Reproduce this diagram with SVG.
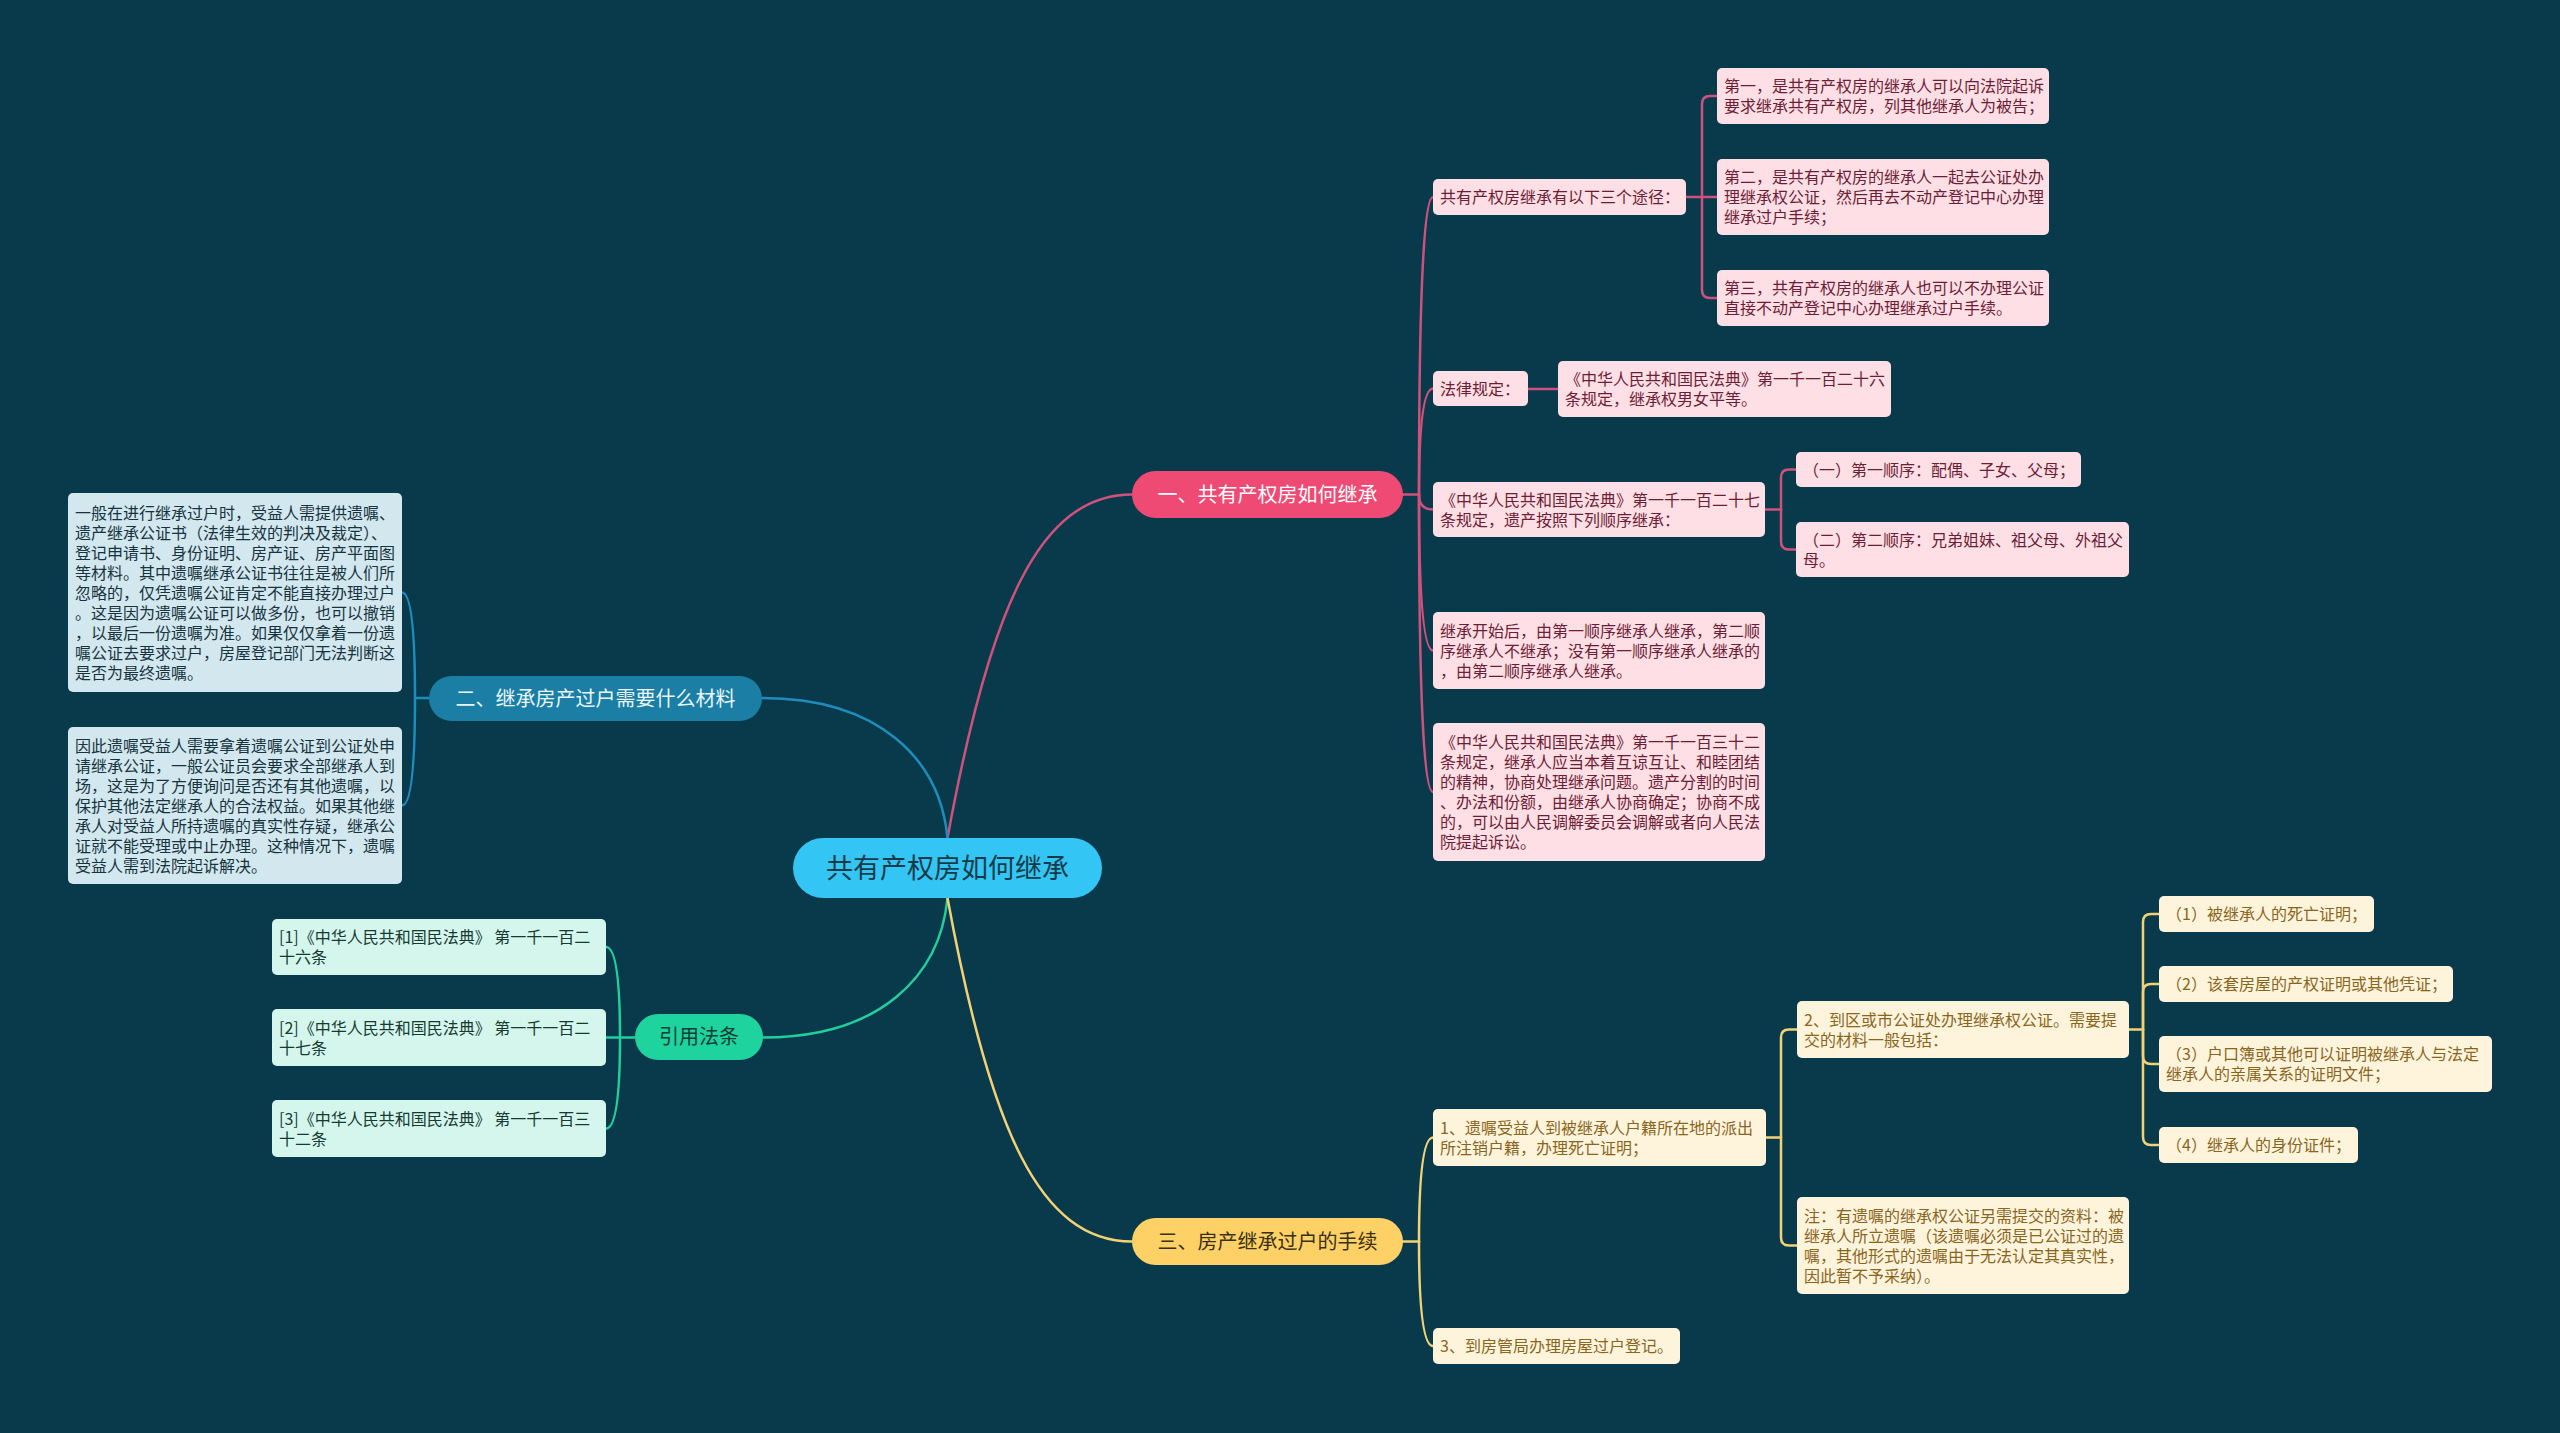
<svg xmlns="http://www.w3.org/2000/svg" width="2560" height="1433" viewBox="0 0 2560 1433">
<style>
text{font-family:"Noto Sans CJK SC","Liberation Sans",sans-serif;}
.t{font-size:16px;}
.pill{font-size:20px;text-anchor:middle;}
.pk rect{fill:#fddfe5;} .pk text{fill:#6e1d36;}
.bl rect{fill:#d2e7ee;} .bl text{fill:#17343e;}
.mt rect{fill:#d4f6ec;} .mt text{fill:#163a32;}
.cr rect{fill:#fef4dc;} .cr text{fill:#8a661c;}
.c path{fill:none;stroke-width:2.5;stroke-linecap:round;}
.cp path{stroke:#d0517c;} .cb path{stroke:#1f8dbb;} .cg path{stroke:#22cf9c;} .cy path{stroke:#f2d274;}
</style>
<rect x="0" y="0" width="2560" height="1433" fill="#083a4c"/>

<g id="connectors" class="c">
  <g class="cp">
    <path d="M947.5,838 C990,606 1040,494.5 1132,494.5" stroke-width="2.8"/>
    <path d="M1403,494.5 H1419"/>
    <path d="M1419,494.5 Q1419,197 1433,197"/>
    <path d="M1419,494.5 Q1419,388.5 1433,388.5"/>
    <path d="M1419,494.5 Q1419,509.5 1433,509.5"/>
    <path d="M1419,494.5 Q1419,650.5 1433,650.5"/>
    <path d="M1419,494.5 Q1419,792 1433,792"/>
    <path d="M1686,197 H1717"/>
    <path d="M1702,197 V104 Q1702,96 1710,96 H1717"/>
    <path d="M1702,197 V290 Q1702,298 1710,298 H1717"/>
    <path d="M1528,389 H1558"/>
    <path d="M1765,509.5 H1781"/>
    <path d="M1781,509.5 V477.5 Q1781,469.5 1789,469.5 H1796"/>
    <path d="M1781,509.5 V541.5 Q1781,549.5 1789,549.5 H1796"/>
  </g>
  <g class="cb">
    <path d="M947.5,838 C940,760 880,698 762,698" stroke-width="2.8"/>
    <path d="M429,698 H415"/>
    <path d="M415,698 Q415,592.5 402,592.5"/>
    <path d="M415,698 Q415,805.5 402,805.5"/>
  </g>
  <g class="cg">
    <path d="M947.5,898 C940,976 880,1037.5 763,1037.5" stroke-width="2.8"/>
    <path d="M635,1037.5 H606"/>
    <path d="M620,1037.5 Q620,947 606,947"/>
    <path d="M620,1037.5 Q620,1128.5 606,1128.5"/>
  </g>
  <g class="cy">
    <path d="M947.5,898 C990,1130 1040,1241.5 1132,1241.5" stroke-width="2.8"/>
    <path d="M1403,1241.5 H1419"/>
    <path d="M1419,1241.5 Q1419,1137.5 1433,1137.5"/>
    <path d="M1419,1241.5 Q1419,1346 1433,1346"/>
    <path d="M1766,1137.5 H1781"/>
    <path d="M1781,1137.5 V1037.5 Q1781,1029.5 1789,1029.5 H1797"/>
    <path d="M1781,1137.5 V1237.5 Q1781,1245.5 1789,1245.5 H1797"/>
    <path d="M2129,1029.5 H2143"/>
    <path d="M2143,1029.5 V922 Q2143,914 2151,914 H2159"/>
    <path d="M2143,1029.5 V992 Q2143,984 2151,984 H2159"/>
    <path d="M2143,1029.5 V1056 Q2143,1064 2151,1064 H2159"/>
    <path d="M2143,1029.5 V1137 Q2143,1145 2151,1145 H2159"/>
  </g>
</g>

<g id="center">
  <rect x="793" y="838" width="309" height="60" rx="30" fill="#33c6f4"/>
  <text x="947.5" y="877.5" font-size="27" text-anchor="middle" fill="#163a48">共有产权房如何继承</text>
</g>

<g id="b1">
  <rect x="1132" y="471" width="271" height="47" rx="23.5" fill="#ee4a73"/>
  <text class="pill" x="1267.5" y="501.5" fill="#ffffff">一、共有产权房如何继承</text>
</g>
<g id="b2">
  <rect x="429" y="676" width="333" height="45" rx="22.5" fill="#1b7ea5"/>
  <text class="pill" x="595.5" y="705.5" fill="#eaf6fa">二、继承房产过户需要什么材料</text>
</g>
<g id="b3">
  <rect x="635" y="1014" width="128" height="46" rx="23" fill="#1fd39e"/>
  <text class="pill" x="699" y="1044" fill="#0d3d35">引用法条</text>
</g>
<g id="b4">
  <rect x="1132" y="1218" width="271" height="47" rx="23.5" fill="#fdd165"/>
  <text class="pill" x="1267.5" y="1248.5" fill="#3a3015">三、房产继承过户的手续</text>
</g>

<g id="p1" class="pk">
  <rect x="1433" y="179" width="253" height="36" rx="5"/>
  <text class="t" x="1440" y="203">共有产权房继承有以下三个途径：</text>
</g>
<g id="p1a" class="pk">
  <rect x="1717" y="68" width="332" height="56" rx="5"/>
  <text class="t" x="1724" y="92">第一，是共有产权房的继承人可以向法院起诉<tspan x="1724" dy="20">要求继承共有产权房，列其他继承人为被告；</tspan></text>
</g>
<g id="p1b" class="pk">
  <rect x="1717" y="159" width="332" height="76" rx="5"/>
  <text class="t" x="1724" y="183">第二，是共有产权房的继承人一起去公证处办<tspan x="1724" dy="20">理继承权公证，然后再去不动产登记中心办理</tspan><tspan x="1724" dy="20">继承过户手续；</tspan></text>
</g>
<g id="p1c" class="pk">
  <rect x="1717" y="270" width="332" height="56" rx="5"/>
  <text class="t" x="1724" y="294">第三，共有产权房的继承人也可以不办理公证<tspan x="1724" dy="20">直接不动产登记中心办理继承过户手续。</tspan></text>
</g>
<g id="p2" class="pk">
  <rect x="1433" y="371" width="95" height="35" rx="5"/>
  <text class="t" x="1440" y="394.5">法律规定：</text>
</g>
<g id="p2a" class="pk">
  <rect x="1558" y="361" width="333" height="56" rx="5"/>
  <text class="t" x="1565" y="385">《中华人民共和国民法典》第一千一百二十六<tspan x="1565" dy="20">条规定，继承权男女平等。</tspan></text>
</g>
<g id="p3" class="pk">
  <rect x="1433" y="482" width="332" height="55" rx="5"/>
  <text class="t" x="1440" y="505.5">《中华人民共和国民法典》第一千一百二十七<tspan x="1440" dy="20">条规定，遗产按照下列顺序继承：</tspan></text>
</g>
<g id="p3a" class="pk">
  <rect x="1796" y="452" width="285" height="35" rx="5"/>
  <text class="t" x="1803" y="475.5">（一）第一顺序：配偶、子女、父母；</text>
</g>
<g id="p3b" class="pk">
  <rect x="1796" y="522" width="333" height="55" rx="5"/>
  <text class="t" x="1803" y="545.5">（二）第二顺序：兄弟姐妹、祖父母、外祖父<tspan x="1803" dy="20">母。</tspan></text>
</g>
<g id="p4" class="pk">
  <rect x="1433" y="612" width="332" height="77" rx="5"/>
  <text class="t" x="1440" y="636.5">继承开始后，由第一顺序继承人继承，第二顺<tspan x="1440" dy="20">序继承人不继承；没有第一顺序继承人继承的</tspan><tspan x="1440" dy="20">，由第二顺序继承人继承。</tspan></text>
</g>
<g id="p5" class="pk">
  <rect x="1433" y="723" width="332" height="138" rx="5"/>
  <text class="t" x="1440" y="748">《中华人民共和国民法典》第一千一百三十二<tspan x="1440" dy="20">条规定，继承人应当本着互谅互让、和睦团结</tspan><tspan x="1440" dy="20">的精神，协商处理继承问题。遗产分割的时间</tspan><tspan x="1440" dy="20">、办法和份额，由继承人协商确定；协商不成</tspan><tspan x="1440" dy="20">的，可以由人民调解委员会调解或者向人民法</tspan><tspan x="1440" dy="20">院提起诉讼。</tspan></text>
</g>

<g id="q1" class="bl">
  <rect x="68" y="493" width="334" height="199" rx="5"/>
  <text class="t" x="75" y="518.5">一般在进行继承过户时，受益人需提供遗嘱、<tspan x="75" dy="20">遗产继承公证书（法律生效的判决及裁定）、</tspan><tspan x="75" dy="20">登记申请书、身份证明、房产证、房产平面图</tspan><tspan x="75" dy="20">等材料。其中遗嘱继承公证书往往是被人们所</tspan><tspan x="75" dy="20">忽略的，仅凭遗嘱公证肯定不能直接办理过户</tspan><tspan x="75" dy="20">。这是因为遗嘱公证可以做多份，也可以撤销</tspan><tspan x="75" dy="20">，以最后一份遗嘱为准。如果仅仅拿着一份遗</tspan><tspan x="75" dy="20">嘱公证去要求过户，房屋登记部门无法判断这</tspan><tspan x="75" dy="20">是否为最终遗嘱。</tspan></text>
</g>
<g id="q2" class="bl">
  <rect x="68" y="727" width="334" height="157" rx="5"/>
  <text class="t" x="75" y="751.5">因此遗嘱受益人需要拿着遗嘱公证到公证处申<tspan x="75" dy="20">请继承公证，一般公证员会要求全部继承人到</tspan><tspan x="75" dy="20">场，这是为了方便询问是否还有其他遗嘱，以</tspan><tspan x="75" dy="20">保护其他法定继承人的合法权益。如果其他继</tspan><tspan x="75" dy="20">承人对受益人所持遗嘱的真实性存疑，继承公</tspan><tspan x="75" dy="20">证就不能受理或中止办理。这种情况下，遗嘱</tspan><tspan x="75" dy="20">受益人需到法院起诉解决。</tspan></text>
</g>

<g id="r1" class="mt">
  <rect x="272" y="919" width="334" height="56" rx="5"/>
  <text class="t" x="279" y="943">[1]《中华人民共和国民法典》 第一千一百二<tspan x="279" dy="20">十六条</tspan></text>
</g>
<g id="r2" class="mt">
  <rect x="272" y="1009" width="334" height="57" rx="5"/>
  <text class="t" x="279" y="1033.5">[2]《中华人民共和国民法典》 第一千一百二<tspan x="279" dy="20">十七条</tspan></text>
</g>
<g id="r3" class="mt">
  <rect x="272" y="1100" width="334" height="57" rx="5"/>
  <text class="t" x="279" y="1124.5">[3]《中华人民共和国民法典》 第一千一百三<tspan x="279" dy="20">十二条</tspan></text>
</g>

<g id="s1" class="cr">
  <rect x="1433" y="1109" width="333" height="57" rx="5"/>
  <text class="t" x="1440" y="1133.5">1、遗嘱受益人到被继承人户籍所在地的派出<tspan x="1440" dy="20">所注销户籍，办理死亡证明；</tspan></text>
</g>
<g id="s1a" class="cr">
  <rect x="1797" y="1001" width="332" height="57" rx="5"/>
  <text class="t" x="1804" y="1025.5">2、到区或市公证处办理继承权公证。需要提<tspan x="1804" dy="20">交的材料一般包括：</tspan></text>
</g>
<g id="s1a1" class="cr">
  <rect x="2159" y="896" width="215" height="36" rx="5"/>
  <text class="t" x="2166" y="920">（1）被继承人的死亡证明；</text>
</g>
<g id="s1a2" class="cr">
  <rect x="2159" y="966" width="294" height="36" rx="5"/>
  <text class="t" x="2166" y="990">（2）该套房屋的产权证明或其他凭证；</text>
</g>
<g id="s1a3" class="cr">
  <rect x="2159" y="1036" width="333" height="56" rx="5"/>
  <text class="t" x="2166" y="1060">（3）户口簿或其他可以证明被继承人与法定<tspan x="2166" dy="20">继承人的亲属关系的证明文件；</tspan></text>
</g>
<g id="s1a4" class="cr">
  <rect x="2159" y="1127" width="199" height="36" rx="5"/>
  <text class="t" x="2166" y="1151">（4）继承人的身份证件；</text>
</g>
<g id="s1b" class="cr">
  <rect x="1797" y="1197" width="332" height="97" rx="5"/>
  <text class="t" x="1804" y="1221.5">注：有遗嘱的继承权公证另需提交的资料：被<tspan x="1804" dy="20">继承人所立遗嘱（该遗嘱必须是已公证过的遗</tspan><tspan x="1804" dy="20">嘱，其他形式的遗嘱由于无法认定其真实性，</tspan><tspan x="1804" dy="20">因此暂不予采纳）。</tspan></text>
</g>
<g id="s2" class="cr">
  <rect x="1433" y="1328" width="247" height="36" rx="5"/>
  <text class="t" x="1440" y="1352">3、到房管局办理房屋过户登记。</text>
</g>
</svg>
